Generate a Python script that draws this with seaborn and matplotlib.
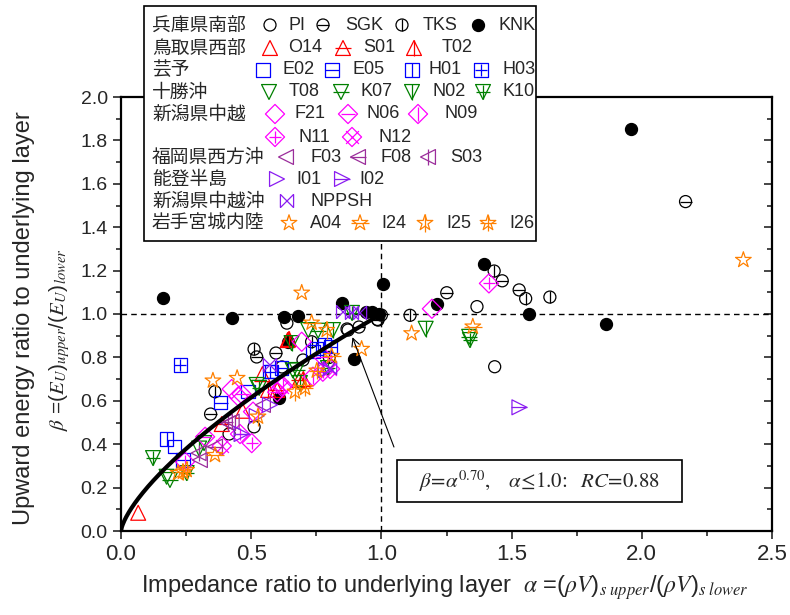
import numpy as np
import matplotlib
matplotlib.use("Agg")
import matplotlib.pyplot as plt
import matplotlib.transforms as mtransforms
import matplotlib.patches as mpatches
from matplotlib.path import Path
from matplotlib.ticker import MultipleLocator
from matplotlib import font_manager as fm
import seaborn as sns

# ---------------- data (alpha, beta) ----------------
PI_a = [0.637, 0.415, 0.511, 0.699, 0.868, 0.618, 0.872, 1.367, 1.435, 0.985]
PI_b = [0.958, 0.447, 0.480, 0.788, 0.931, 0.756, 0.926, 1.034, 0.757, 0.975]
SGK_a = [0.344, 0.521, 0.595, 0.914, 1.251, 1.464, 1.529, 2.168, 0.987]
SGK_b = [0.539, 0.802, 0.820, 0.940, 1.098, 1.153, 1.111, 1.518, 0.972]
TKS_a = [0.361, 0.511, 0.732, 1.433, 1.554, 1.647, 1.110, 1.000, 0.800]
TKS_b = [0.642, 0.838, 0.872, 1.198, 1.071, 1.078, 0.994, 0.995, 0.800]
KNK_a = [0.161, 0.426, 0.626, 0.680, 0.642, 0.607, 0.849, 0.895, 0.941, 0.964,
         0.990, 1.005, 1.212, 1.393, 1.567, 1.863, 1.959]
KNK_b = [1.074, 0.982, 0.986, 0.992, 0.872, 0.613, 1.051, 0.793, 1.009, 1.009,
         1.000, 1.138, 1.046, 1.232, 1.000, 0.955, 1.853]
O14_a = [0.066, 0.467, 0.543, 0.640]
O14_b = [0.084, 0.554, 0.723, 0.880]
S01_a = [0.684, 0.387, 0.600]
S01_b = [0.696, 0.493, 0.650]
T02_a = [0.645, 0.565, 0.700]
T02_b = [0.885, 0.650, 0.700]
E02_a = [0.207, 0.737, 0.579, 0.488]
E02_b = [0.389, 0.826, 0.734, 0.642]
E05_a = [0.383, 0.617, 0.803, 0.238]
E05_b = [0.591, 0.751, 0.850, 0.327]
H01_a = [0.175, 0.783, 0.750]
H01_b = [0.424, 0.857, 0.840]
H03_a = [0.227, 0.572]
H03_b = [0.765, 0.734]
T08_a = [0.175, 0.521, 0.719, 0.319, 0.660]
T08_b = [0.250, 0.673, 0.926, 0.405, 0.740]
K07_a = [0.188, 0.675, 0.757, 1.337]
K07_b = [0.235, 0.742, 0.923, 0.895]
N02_a = [0.655, 0.687, 1.170, 0.814, 0.300]
N02_b = [0.866, 0.682, 0.932, 0.926, 0.380]
K10_a = [0.123, 0.252, 0.795, 1.340, 0.887, 0.530]
K10_b = [0.336, 0.267, 0.751, 0.880, 1.005, 0.660]
F21_a = [0.425, 0.694, 1.194, 0.507, 0.450]
F21_b = [0.654, 0.872, 1.024, 0.550, 0.620]
N06_a = [0.463, 0.776, 0.323, 0.600]
N06_b = [0.631, 0.802, 0.434, 0.640]
N09_a = [0.622, 0.246, 0.737]
N09_b = [0.668, 0.319, 0.711]
N11_a = [0.457, 0.502, 1.413, 0.775]
N11_b = [0.447, 0.405, 1.141, 0.734]
N12_a = [0.387, 0.617, 0.803]
N12_b = [0.392, 0.664, 0.747]
F03_a = [0.303, 0.545, 0.425]
F03_b = [0.327, 0.581, 0.504]
F08_a = [0.361, 0.399]
F08_b = [0.389, 0.504]
S03_a = [0.411, 0.298]
S03_b = [0.497, 0.359]
I01_a = [0.521, 0.572, 0.787]
I01_b = [0.530, 0.581, 0.742]
I02_a = [1.530, 0.463]
I02_b = [0.570, 0.447]
NPPSH_a = [0.572, 0.853, 0.887, 0.918, 0.803]
NPPSH_b = [0.765, 1.009, 1.005, 1.005, 0.751]
A04_a = [0.353, 0.446, 0.694, 0.924, 0.219, 1.116, 2.390]
A04_b = [0.693, 0.705, 1.098, 0.839, 0.267, 0.911, 1.249]
I24_a = [0.732, 0.361, 0.809, 1.351]
I24_b = [0.960, 0.350, 0.806, 0.942]
I25_a = [0.790, 0.526, 0.668, 0.252]
I25_b = [0.926, 0.527, 0.642, 0.281]
I26_a = [0.707, 0.752, 0.238]
I26_b = [0.659, 0.739, 0.273]

FIT_EXP = 0.70
X_TICKS = [0.0, 0.5, 1.0, 1.5, 2.0, 2.5]
Y_TICKS = [0.0, 0.2, 0.4, 0.6, 0.8, 1.0, 1.2, 1.4, 1.6, 1.8, 2.0]

REGIONS = ["兵庫県南部", "鳥取県西部", "芸予", "十勝沖", "新潟県中越", "",
           "福岡県西方沖", "能登半島", "新潟県中越沖", "岩手宮城内陸"]

# ---------------- styles ----------------
RED, BLUE, GREEN, MAG, PUR, VIO, ORA = ("#ff0000", "#0000ff", "#008000",
                                        "#ff00ff", "#9b2d9b", "#8a1cf0", "#ff8000")

bowtie = Path([(-1, -1), (1, 1), (-1, 1), (1, -1), (-1, -1), (-1, 1), (1, -1), (1, 1)],
              [Path.MOVETO, Path.LINETO, Path.MOVETO, Path.LINETO,
               Path.MOVETO, Path.LINETO, Path.MOVETO, Path.LINETO])

# name, x, y, base marker, overlay, color, filled, size, legend row, marker px x, label px x
SERIES = [
    ("PI", PI_a, PI_b, "o", None, "black", False, 75, 0, 270, 288),
    ("SGK", SGK_a, SGK_b, "o", "_", "black", False, 75, 0, 323, 345),
    ("TKS", TKS_a, TKS_b, "o", "|", "black", False, 75, 0, 402, 423),
    ("KNK", KNK_a, KNK_b, "o", None, "black", True, 75, 0, 478, 498),
    ("O14", O14_a, O14_b, "^", None, RED, False, 115, 1, 270, 288),
    ("S01", S01_a, S01_b, "^", "_", RED, False, 115, 1, 343, 363),
    ("T02", T02_a, T02_b, "^", "|", RED, False, 115, 1, 414, 442),
    ("E02", E02_a, E02_b, "s", None, BLUE, False, 90, 2, 263, 282),
    ("E05", E05_a, E05_b, "s", "_", BLUE, False, 90, 2, 332, 353),
    ("H01", H01_a, H01_b, "s", "|", BLUE, False, 90, 2, 412, 429),
    ("H03", H03_a, H03_b, "s", "+", BLUE, False, 90, 2, 481, 503),
    ("T08", T08_a, T08_b, "v", None, GREEN, False, 115, 3, 269, 289),
    ("K07", K07_a, K07_b, "v", "_", GREEN, False, 115, 3, 341, 360),
    ("N02", N02_a, N02_b, "v", "|", GREEN, False, 115, 3, 412, 433),
    ("K10", K10_a, K10_b, "v", "+", GREEN, False, 115, 3, 483, 503),
    ("F21", F21_a, F21_b, "D", None, MAG, False, 95, 4, 275, 295),
    ("N06", N06_a, N06_b, "D", "_", MAG, False, 95, 4, 348, 366),
    ("N09", N09_a, N09_b, "D", "|", MAG, False, 95, 4, 418, 445),
    ("N11", N11_a, N11_b, "D", "+", MAG, False, 95, 5, 275, 299),
    ("N12", N12_a, N12_b, "D", "x", MAG, False, 95, 5, 352, 378),
    ("F03", F03_a, F03_b, "<", None, PUR, False, 115, 6, 286, 310),
    ("F08", F08_a, F08_b, "<", "_", PUR, False, 115, 6, 358, 380),
    ("S03", S03_a, S03_b, "<", "|", PUR, False, 115, 6, 428, 450),
    ("I01", I01_a, I01_b, ">", None, VIO, False, 115, 7, 277, 296),
    ("I02", I02_a, I02_b, ">", "_", VIO, False, 115, 7, 342, 359),
    ("NPPSH", NPPSH_a, NPPSH_b, bowtie, None, VIO, False, 90, 8, 287, 310),
    ("A04", A04_a, A04_b, "*", None, ORA, False, 140, 9, 289, 310),
    ("I24", I24_a, I24_b, "*", "_", ORA, False, 140, 9, 360, 381),
    ("I25", I25_a, I25_b, "*", "|", ORA, False, 140, 9, 425, 446),
    ("I26", I26_a, I26_b, "*", "+", ORA, False, 140, 9, 488, 509),
]
ROW_Y = [25, 48, 70, 92, 114, 137, 157, 179, 201, 223]

sns.set_style("ticks")
names = {f.name for f in fm.fontManager.ttflist}
NARROW = "Liberation Sans Narrow" if "Liberation Sans Narrow" in names else "Liberation Sans"
plt.rcParams["font.family"] = ["Liberation Sans", "Noto Sans CJK JP", "DejaVu Sans"]
plt.rcParams["mathtext.fontset"] = "stix"

W, H = 790, 615
fig = plt.figure(figsize=(W / 100, H / 100), dpi=100)
ax = fig.add_axes([121 / W, 1 - 531 / H, 651 / W, 434 / H])
pix = mtransforms.Affine2D().scale(1 / W, -1 / H).translate(0, 1) + fig.transFigure

# reference lines
ax.axhline(1.0, color="black", ls=(0, (4, 3)), lw=1.0, zorder=1)
ax.axvline(1.0, color="black", ls=(0, (4, 3)), lw=1.0, zorder=1)

# data points
for name, xs, ys, base, ov, col, filled, s, *_ in SERIES:
    sns.scatterplot(x=xs, y=ys, marker=base, s=s, ax=ax, zorder=3,
                    facecolor=col if filled else "none", edgecolor=col, linewidth=0.9)
    if ov is not None:
        sns.scatterplot(x=xs, y=ys, marker=ov, s=s * (1.1 if ov in "_|" else 0.9), ax=ax,
                        zorder=3, color=col, edgecolor=col, linewidth=0.9)

# fitted curve
alpha_fit = np.linspace(0, 1, 300)
sns.lineplot(x=alpha_fit, y=alpha_fit ** FIT_EXP, color="black", lw=3, ax=ax, zorder=4)

# annotation box + arrow
ax.add_patch(mpatches.Rectangle((1.06, 0.134), 1.094, 0.193, fill=False,
                                edgecolor="black", lw=1.2, zorder=5))
ax.text(1.607, 0.228, r"$\beta\!=\!\alpha^{0.70},\ \ \ \alpha\!\leq\!1.0\!:\ \ RC\!=\!0.88$",
        ha="center", va="center", fontsize=15, zorder=5)
ax.annotate("", xy=(0.885, 0.905), xytext=(1.052, 0.375),
            arrowprops=dict(arrowstyle="->", lw=0.8, color="black",
                            mutation_scale=14), zorder=5)

# axes styling
ax.set_xlim(0, 2.5)
ax.set_ylim(0, 2.0)
ax.set_xticks(X_TICKS)
ax.set_yticks(Y_TICKS)
ax.set_xticklabels([f"{v:.1f}" for v in X_TICKS], fontfamily=NARROW, fontsize=16)
ax.set_yticklabels([f"{v:.1f}" for v in Y_TICKS], fontsize=14)
ax.xaxis.set_minor_locator(MultipleLocator(0.25))
ax.yaxis.set_minor_locator(MultipleLocator(0.1))
ax.tick_params(which="both", width=1.2)
ax.tick_params(which="major", length=6)
ax.tick_params(which="minor", length=3.5)
ax.tick_params(axis="x", which="both", direction="out", top=False)
ax.tick_params(axis="y", which="both", direction="out", right=True)
for sp in ax.spines.values():
    sp.set_visible(True)
    sp.set_linewidth(1.6)
    sp.set_color("black")
ax.set_xlabel("")
ax.set_ylabel("")
ax.grid(False)

# right ticks inward
for t in ax.yaxis.get_major_ticks() + ax.yaxis.get_minor_ticks():
    t.tick2line.set_marker(0)

# axis titles
fig.text(445 / W, 1 - 588 / H,
         r"Impedance ratio to underlying layer  $\alpha$ =($\rho V$)$_{s\ upper}$/($\rho V$)$_{s\ lower}$",
         ha="center", va="center", fontsize=17, fontfamily=NARROW)
fig.text(24 / W, 1 - 318 / H, "Upward energy ratio to underlying layer",
         rotation=90, ha="center", va="center", fontsize=17)
fig.text(60 / W, 1 - 340 / H,
         r"$\beta$ =($E_U$)$_{upper}$/($E_U$)$_{lower}$",
         rotation=90, ha="center", va="center", fontsize=15)

# legend box
ax.add_patch(mpatches.Rectangle((144, 6), 392, 235, transform=pix, facecolor="white",
                                edgecolor="black", lw=1.2, zorder=10, clip_on=False))
for row, lab in enumerate(REGIONS):
    if lab:
        ax.text(152, ROW_Y[row], lab, transform=pix, ha="left", va="center",
                fontsize=13.5, fontfamily=["Noto Sans CJK JP", "DejaVu Sans"],
                zorder=12, clip_on=False)
for name, xs, ys, base, ov, col, filled, s, row, mx, lx in SERIES:
    y = ROW_Y[row]
    ax.scatter([mx], [y], marker=base, s=s, transform=pix, clip_on=False, zorder=12,
               facecolor=col if filled else "none", edgecolor=col, linewidth=0.9)
    if ov is not None:
        ax.scatter([mx], [y], marker=ov, s=s * (1.1 if ov in "_|" else 0.9), transform=pix,
                   clip_on=False, zorder=12, color=col, linewidth=0.9)
    ax.text(lx, y, name, transform=pix, ha="left", va="center", fontsize=13,
            zorder=12, clip_on=False)

ax.set_xlim(0, 2.5)
ax.set_ylim(0, 2.0)
fig.savefig("out.png", dpi=100)
